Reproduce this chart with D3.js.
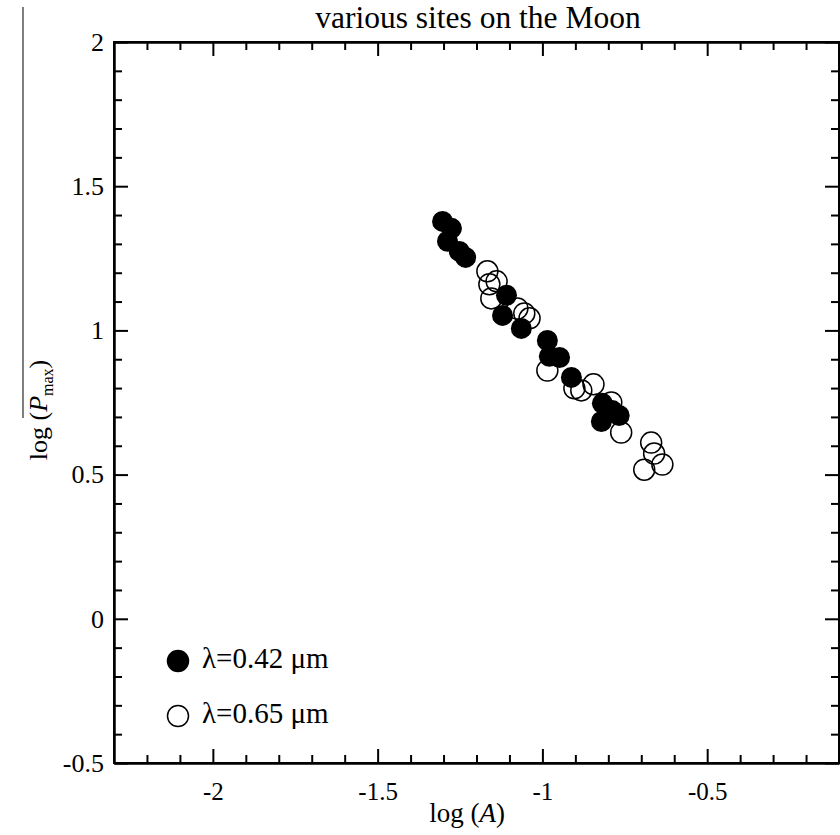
<!DOCTYPE html>
<html lang="en">
<head>
  <meta charset="UTF-8">
  <title>various sites on the Moon</title>
  <script src="https://d3js.org/d3.v7.min.js"></script>
  <style>
    body {
      margin: 0;
      background: #fff;
    }
    svg text {
      font-family: "Liberation Serif", "Times New Roman", serif;
      fill: #000;
    }
    .axis path, .axis line {
      stroke: #000;
      stroke-width: 2;
    }
  </style>
</head>
<body>
  <svg width="840" height="835"></svg>
  <script>
    // log(A), log(Pmax)
    const blueX = [-1.303, -1.276, -1.288, -1.252, -1.233, -1.109, -1.121, -1.064,
                   -0.985, -0.979, -0.948, -0.912, -0.818, -0.788, -0.767, -0.821];
    const blueY = [1.378, 1.354, 1.309, 1.274, 1.253, 1.122, 1.052, 1.007,
                   0.965, 0.910, 0.906, 0.837, 0.747, 0.722, 0.705, 0.684];
    const redX = [-1.167, -1.139, -1.161, -1.155, -1.076, -1.055, -1.039, -0.985,
                  -0.903, -0.882, -0.845, -0.791, -0.761, -0.670, -0.661, -0.636, -0.691];
    const redY = [1.205, 1.170, 1.160, 1.111, 1.076, 1.059, 1.042, 0.861,
                  0.799, 0.792, 0.813, 0.750, 0.646, 0.611, 0.573, 0.535, 0.517];

    const xMajor = [-2, -1.5, -1, -0.5];
    const yMajor = [-0.5, 0, 0.5, 1, 1.5, 2];
    const legendLabels = ["λ=0.42 μm", "λ=0.65 μm"];

    const svg = d3.select("svg");

    const x = d3.scaleLinear().domain([-2.3, -0.1]).range([114, 839]);
    const y = d3.scaleLinear().domain([-0.5, 2]).range([763, 42]);

    const xMinor = d3.range(-22, -1).map(d => d / 10).filter(d => Math.abs(d * 2 - Math.round(d * 2)) > 1e-6);
    const yMinor = d3.range(-4, 20).map(d => d / 10).filter(d => Math.abs(d * 2 - Math.round(d * 2)) > 1e-6);

    // frame
    svg.append("rect")
      .attr("x", x.range()[0]).attr("y", y.range()[1])
      .attr("width", x.range()[1] - x.range()[0])
      .attr("height", y.range()[0] - y.range()[1])
      .attr("fill", "none").attr("stroke", "#000").attr("stroke-width", 2);

    const fmt = d => String(d);

    // bottom
    svg.append("g").attr("class", "axis")
      .attr("transform", `translate(0,${y.range()[0]})`)
      .call(d3.axisBottom(x).tickValues(xMajor).tickSize(-14).tickSizeOuter(0).tickPadding(19).tickFormat(fmt))
      .call(g => g.selectAll("text").style("font-size", "25px"));
    svg.append("g").attr("class", "axis")
      .attr("transform", `translate(0,${y.range()[0]})`)
      .call(d3.axisBottom(x).tickValues(xMinor).tickSize(-8).tickSizeOuter(0).tickFormat(""));
    // top
    svg.append("g").attr("class", "axis")
      .attr("transform", `translate(0,${y.range()[1]})`)
      .call(d3.axisTop(x).tickValues(xMajor).tickSize(-14).tickSizeOuter(0).tickFormat(""));
    svg.append("g").attr("class", "axis")
      .attr("transform", `translate(0,${y.range()[1]})`)
      .call(d3.axisTop(x).tickValues(xMinor).tickSize(-8).tickSizeOuter(0).tickFormat(""));
    // left
    svg.append("g").attr("class", "axis")
      .attr("transform", `translate(${x.range()[0]},0)`)
      .call(d3.axisLeft(y).tickValues(yMajor).tickSize(-14).tickSizeOuter(0).tickPadding(10).tickFormat(fmt))
      .call(g => g.selectAll("text").style("font-size", "26px"));
    svg.append("g").attr("class", "axis")
      .attr("transform", `translate(${x.range()[0]},0)`)
      .call(d3.axisLeft(y).tickValues(yMinor).tickSize(-8).tickSizeOuter(0).tickFormat(""));
    // right
    svg.append("g").attr("class", "axis")
      .attr("transform", `translate(${x.range()[1]},0)`)
      .call(d3.axisRight(y).tickValues(yMajor).tickSize(-14).tickSizeOuter(0).tickFormat(""));
    svg.append("g").attr("class", "axis")
      .attr("transform", `translate(${x.range()[1]},0)`)
      .call(d3.axisRight(y).tickValues(yMinor).tickSize(-8).tickSizeOuter(0).tickFormat(""));

    // points
    const r = 10.5;
    svg.append("g").selectAll("circle")
      .data(d3.zip(blueX, blueY))
      .join("circle")
      .attr("cx", d => x(d[0])).attr("cy", d => y(d[1])).attr("r", r)
      .attr("fill", "#000");
    svg.append("g").selectAll("circle")
      .data(d3.zip(redX, redY))
      .join("circle")
      .attr("cx", d => x(d[0])).attr("cy", d => y(d[1])).attr("r", r)
      .attr("fill", "none").attr("stroke", "#000").attr("stroke-width", 1.5);

    // legend
    const leg = svg.append("g");
    legendLabels.forEach((label, i) => {
      const ly = 661 + i * 55;
      leg.append("circle").attr("cx", 178).attr("cy", ly).attr("r", 10.5)
        .attr("fill", i === 0 ? "#000" : "none")
        .attr("stroke", "#000").attr("stroke-width", 1.5);
      leg.append("text").attr("x", 202).attr("y", ly + 7)
        .style("font-size", "29px").text(label);
    });

    // title
    svg.append("text").attr("x", 478).attr("y", 28)
      .attr("text-anchor", "middle").style("font-size", "31.5px")
      .text("various sites on the Moon");

    // x label
    const xl = svg.append("text").attr("x", 467).attr("y", 822)
      .attr("text-anchor", "middle").style("font-size", "27px");
    xl.append("tspan").text("log (");
    xl.append("tspan").style("font-style", "italic").text("A");
    xl.append("tspan").text(")");

    // y label
    const yl = svg.append("text")
      .attr("transform", "translate(47,410) rotate(-90)")
      .attr("text-anchor", "middle").style("font-size", "26px");
    yl.append("tspan").text("log (");
    yl.append("tspan").style("font-style", "italic").text("P");
    yl.append("tspan").attr("dy", 6).style("font-size", "16px").text("max");
    yl.append("tspan").attr("dy", -6).text(")");

    // stray overline seen left of the y label
    svg.append("line")
      .attr("x1", 23).attr("x2", 23).attr("y1", 7).attr("y2", 418)
      .attr("stroke", "#555").attr("stroke-width", 1.5);
  </script>
</body>
</html>
